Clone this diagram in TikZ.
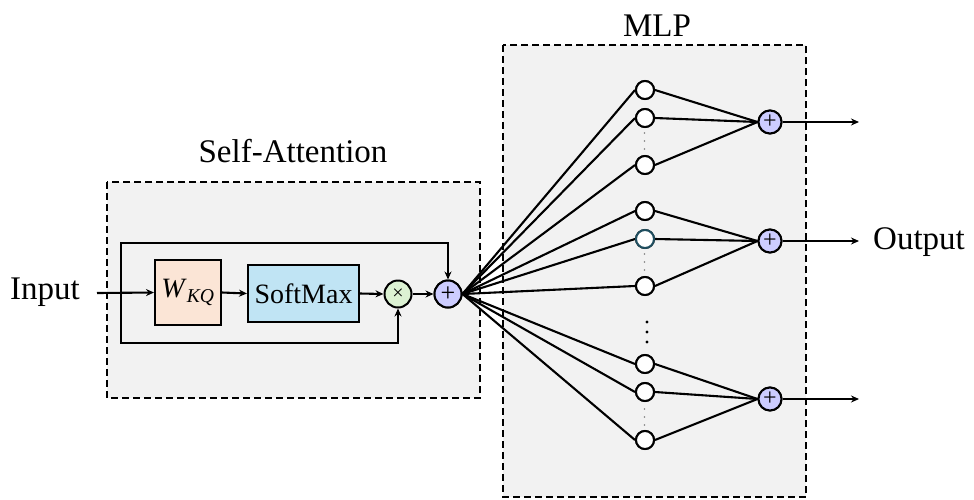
\documentclass[tikz,border=0pt]{standalone}
\usepackage{fontspec}
\setmainfont{Liberation Serif}
\usetikzlibrary{arrows.meta}
\definecolor{bgc}{HTML}{F2F2F2}
\definecolor{wkqc}{HTML}{FBE5D6}
\definecolor{smc}{HTML}{C0E4F4}
\definecolor{mulc}{HTML}{DCF2D3}
\definecolor{plusc}{HTML}{CCCCFF}
\definecolor{tealc}{HTML}{1F4E5F}
\begin{document}
\begin{tikzpicture}[x=1pt,y=-1pt,
  panel/.style={draw, dash pattern=on 7pt off 4pt, line width=2.2pt, fill=bgc},
  blk/.style={draw, line width=2pt, inner sep=0pt, font=\fontsize{28}{30}\selectfont},
  opc/.style={circle, draw, line width=2pt, minimum size=27pt, inner sep=0pt},
  hid/.style={circle, draw, line width=2pt, fill=white, minimum size=18pt, inner sep=0pt},
  sumc/.style={circle, draw, line width=2pt, fill=plusc, minimum size=23pt, inner sep=0pt, font=\fontsize{24}{24}\selectfont},
  conn/.style={line width=2.1pt},
  arr/.style={conn, -{Stealth[length=8pt,width=7pt]}},
  lbl/.style={font=\fontsize{33}{36}\selectfont, inner sep=0pt}
]
\useasboundingbox (0,0) rectangle (974,499);

% panels
\path[panel] (107,182) rectangle (480,398);
\path[panel] (503,45) rectangle (806,497);

% titles
\node[lbl, anchor=base] (tsa) at (293,162) {Self-Attention};
\node[lbl, anchor=base] (tmlp) at (657,36) {MLP};
\node[lbl, anchor=base west] (tin) at (10,299) {Input};
\node[lbl, anchor=base west] (tout) at (873,249) {Output};

% self-attention blocks
\node[blk, fill=wkqc, minimum width=66pt, minimum height=65pt] (wkq) at (188,292.5) {\textit{W}\textsubscript{\textit{KQ}}};
\node[blk, fill=smc, minimum width=111pt, minimum height=57pt] (sm) at (303.5,293.5) {SoftMax};
\node[opc, fill=mulc, font=\fontsize{20}{20}\selectfont] (mul) at (398,294) {×};
\node[opc, fill=plusc, font=\fontsize{26}{26}\selectfont] (plus) at (448,294) {+};

\coordinate (ins) at (97,293);
\coordinate (br) at (121,293);
\draw[arr] (ins) -- (wkq.west);
\draw[arr] (wkq.east) -- (sm.west);
\draw[arr] (sm.east) -- (mul.west);
\draw[arr] (mul.east) -- (plus.west);
\draw[arr] (br) -- (121,243) -| (plus.north);
\draw[arr] (br) -- (121,343) -| (mul.south);

% MLP hidden nodes
\foreach \i/\y in {1/90,2/118,3/165,4/211,5/239,6/286,7/364,8/392,9/440}{
  \node[hid] (h\i) at (645,\y) {};
}
\foreach \i/\y in {1/122,2/241,3/399}{
  \node[sumc] (s\i) at (770,\y) {+};
  \coordinate (o\i) at (859,\y);
  \draw[arr] (s\i.east) -- (o\i);
}

% connections
\foreach \i in {1,...,9}{
  \draw[conn] (plus.east) -- (h\i.west);
}
\foreach \i in {1,2,3}{ \draw[conn] (h\i.east) -- (s1.west); }
\foreach \i in {4,5,6}{ \draw[conn] (h\i.east) -- (s2.west); }
\foreach \i in {7,8,9}{ \draw[conn] (h\i.east) -- (s3.west); }

% redraw nodes on top of connectors
\foreach \i/\y in {1/90,2/118,3/165,4/211,6/286,7/364,8/392,9/440}{
  \node[hid] at (645,\y) {};
}
\node[hid, draw=tealc] at (645,239) {};
\foreach \i/\y in {1/122,2/241,3/399}{
  \node[sumc] at (770,\y) {+};
}
\node[opc, fill=plusc, font=\fontsize{26}{26}\selectfont] at (448,294) {+};

% small dots
\foreach \y in {133,141,149}{ \fill[gray] (644.5,\y) circle (0.9pt); }
\foreach \y in {254,262,270}{ \fill[gray] (644.5,\y) circle (0.9pt); }
\foreach \y in {409,417,425}{ \fill[gray] (644.5,\y) circle (0.9pt); }
% big dots
\foreach \y in {322,332,342}{ \fill (647,\y) circle (1.6pt); }
\end{tikzpicture}
\end{document}
